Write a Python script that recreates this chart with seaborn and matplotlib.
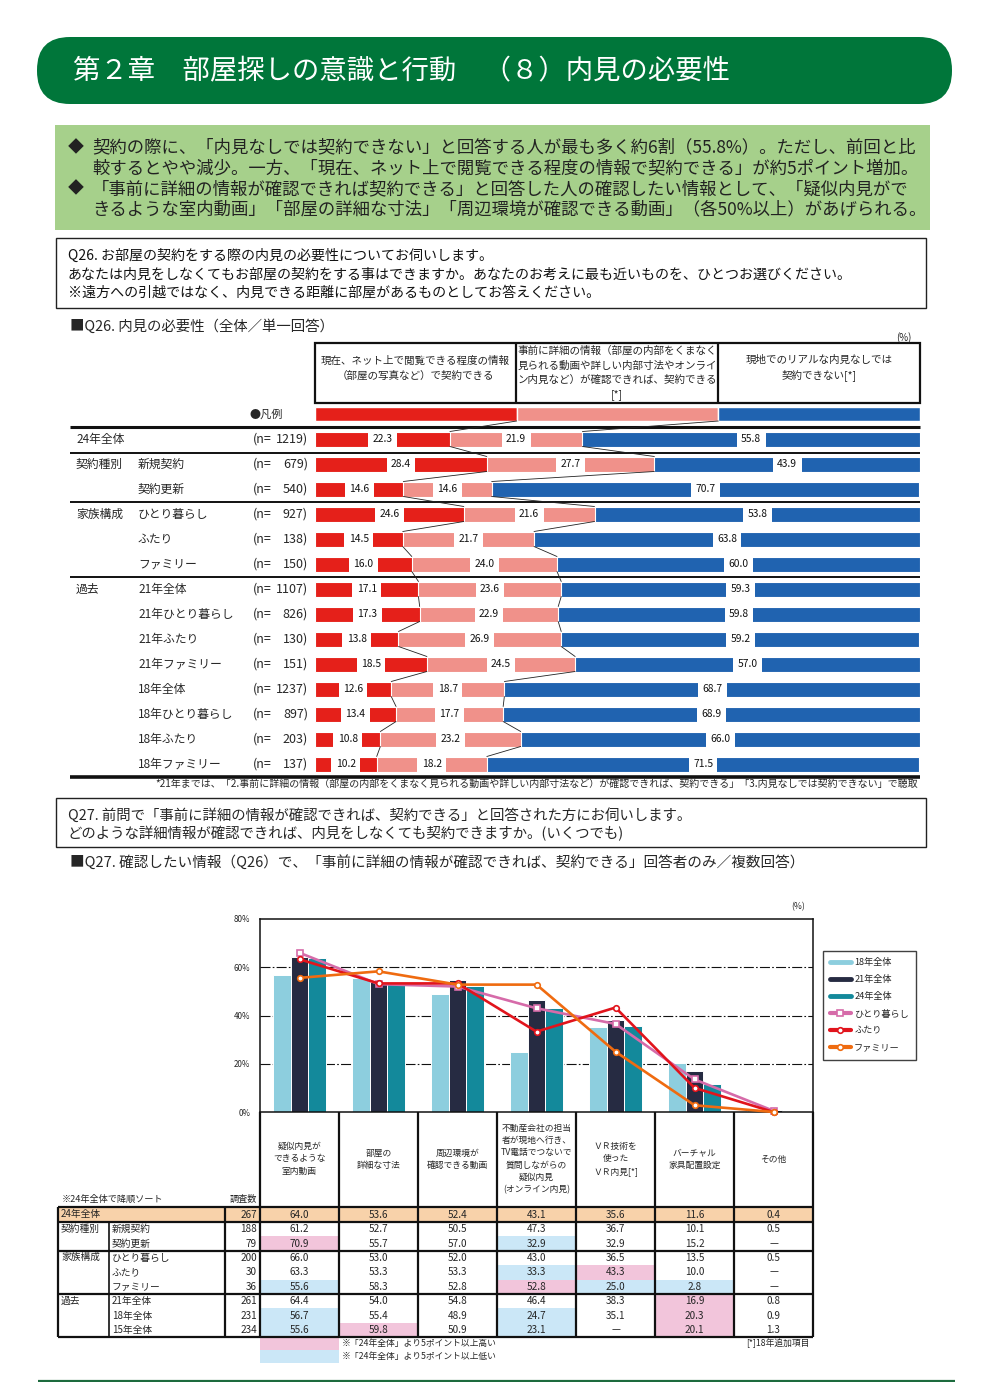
import numpy as np
import pandas as pd
import seaborn as sns
import matplotlib
matplotlib.use('Agg')
import matplotlib.pyplot as plt
from matplotlib.patches import FancyBboxPatch, Rectangle
from matplotlib.lines import Line2D

sns.set_theme(style='white')
plt.rcParams['font.family'] = ['Noto Sans CJK JP', 'DejaVu Sans']

# ---------------- data ----------------
title = '第２章　部屋探しの意識と行動　（８）内見の必要性'
summary = [
    ('◆', '契約の際に、「内見なしでは契約できない」と回答する人が最も多く約6割（55.8%）。ただし、前回と比'),
    ('', '較するとやや減少。一方、「現在、ネット上で閲覧できる程度の情報で契約できる」が約5ポイント増加。'),
    ('◆', '「事前に詳細の情報が確認できれば契約できる」と回答した人の確認したい情報として、「疑似内見がで'),
    ('', 'きるような室内動画」「部屋の詳細な寸法」「周辺環境が確認できる動画」（各50%以上）があげられる。'),
]
q26_question = [
    'Q26. お部屋の契約をする際の内見の必要性についてお伺いします。',
    'あなたは内見をしなくてもお部屋の契約をする事はできますか。あなたのお考えに最も近いものを、ひとつお選びください。',
    '※遠方への引越ではなく、内見できる距離に部屋があるものとしてお答えください。',
]
q26_title = '■Q26. 内見の必要性（全体／単一回答）'
q26_series = ['現在、ネット上で閲覧できる程度の情報\n（部屋の写真など）で契約できる',
              '事前に詳細の情報（部屋の内部をくまなく\n見られる動画や詳しい内部寸法やオンライ\nン内見など）が確認できれば、契約できる\n[*]',
              '現地でのリアルな内見なしでは\n契約できない[*]']
q26_groups = ['24年全体', '契約種別', '', '家族構成', '', '', '過去', '', '', '', '', '', '', '']
q26_rows = ['', '新規契約', '契約更新', 'ひとり暮らし', 'ふたり', 'ファミリー', '21年全体', '21年ひとり暮らし',
            '21年ふたり', '21年ファミリー', '18年全体', '18年ひとり暮らし', '18年ふたり', '18年ファミリー']
q26_n = [1219, 679, 540, 927, 138, 150, 1107, 826, 130, 151, 1237, 897, 203, 137]
q26_net = [22.3, 28.4, 14.6, 24.6, 14.5, 16.0, 17.1, 17.3, 13.8, 18.5, 12.6, 13.4, 10.8, 10.2]
q26_detail = [21.9, 27.7, 14.6, 21.6, 21.7, 24.0, 23.6, 22.9, 26.9, 24.5, 18.7, 17.7, 23.2, 18.2]
q26_real = [55.8, 43.9, 70.7, 53.8, 63.8, 60.0, 59.3, 59.8, 59.2, 57.0, 68.7, 68.9, 66.0, 71.5]
q26_note = '*21年までは、「2.事前に詳細の情報（部屋の内部をくまなく見られる動画や詳しい内部寸法など）が確認できれば、契約できる」「3.内見なしでは契約できない」で聴取'

q27_question = ['Q27. 前問で「事前に詳細の情報が確認できれば、契約できる」と回答された方にお伺いします。',
                'どのような詳細情報が確認できれば、内見をしなくても契約できますか。(いくつでも)']
q27_title = '■Q27. 確認したい情報（Q26）で、「事前に詳細の情報が確認できれば、契約できる」回答者のみ／複数回答）'
q27_cats = ['疑似内見が\nできるような\n室内動画', '部屋の\n詳細な寸法', '周辺環境が\n確認できる動画',
            '不動産会社の担当\n者が現地へ行き、\nTV電話でつないで\n質問しながらの\n疑似内見\n(オンライン内見)',
            'ＶＲ技術を\n使った\nＶＲ内見[*]', 'バーチャル\n家具配置設定', 'その他']
bar_series = ['18年全体', '21年全体', '24年全体']
line_series = ['ひとり暮らし', 'ふたり', 'ファミリー']

tbl_groups = ['24年全体', '契約種別', '', '家族構成', '', '', '過去', '', '']
tbl_rows = ['', '新規契約', '契約更新', 'ひとり暮らし', 'ふたり', 'ファミリー', '21年全体', '18年全体', '15年全体']
tbl_n = [267, 188, 79, 200, 30, 36, 261, 231, 234]
col_virtual = [64.0, 61.2, 70.9, 66.0, 63.3, 55.6, 64.4, 56.7, 55.6]
col_size = [53.6, 52.7, 55.7, 53.0, 53.3, 58.3, 54.0, 55.4, 59.8]
col_area = [52.4, 50.5, 57.0, 52.0, 53.3, 52.8, 54.8, 48.9, 50.9]
col_online = [43.1, 47.3, 32.9, 43.0, 33.3, 52.8, 46.4, 24.7, 23.1]
col_vr = [35.6, 36.7, 32.9, 36.5, 43.3, 25.0, 38.3, 35.1, None]
col_furn = [11.6, 10.1, 15.2, 13.5, 10.0, 2.8, 16.9, 20.3, 20.1]
col_other = [0.4, 0.5, None, 0.5, None, None, 0.8, 0.9, 1.3]
tbl_cols = [col_virtual, col_size, col_area, col_online, col_vr, col_furn, col_other]
# chart rows: 18年全体 / 21年全体 / 24年全体 / ひとり暮らし / ふたり / ファミリー
bar_rows = {'18年全体': 7, '21年全体': 6, '24年全体': 0}
line_rows = {'ひとり暮らし': 3, 'ふたり': 4, 'ファミリー': 5}

# ---------------- styling ----------------
GREEN = '#00763a'
LGREEN = '#a6d08b'
RED = '#e5201a'
PINK = '#f0918a'
BLUE = '#2063b0'
C18, C21, C24 = '#8dcede', '#262b42', '#13899b'
LPINK, LRED, LORANGE = '#d66ba9', '#e1141c', '#ef6b10'
HI_PINK, HI_BLUE, HI_ORANGE = '#f2c5db', '#cbe7f7', '#f8d2aa'

W, H = 1002, 1382
fig = plt.figure(figsize=(W / 100, H / 100), dpi=100)
fig.patch.set_facecolor('white')
ax0 = fig.add_axes([0, 0, 1, 1])
ax0.set_xlim(0, W)
ax0.set_ylim(H, 0)
ax0.axis('off')


def fa(x0, y0, x1, y1):
    return [x0 / W, 1 - y1 / H, (x1 - x0) / W, (y1 - y0) / H]


def T(x, y, s, size=8, ha='left', va='center', **kw):
    ax0.text(x, y, s, fontsize=size, ha=ha, va=va, **kw)


def L(xs, ys, lw=1.0, color='#111111', **kw):
    ax0.plot(xs, ys, color=color, lw=lw, solid_capstyle='butt', **kw)


# ---------------- header ----------------
ax0.add_patch(FancyBboxPatch((37, 37), 915, 67, boxstyle='round,pad=0,rounding_size=33',
                             fc=GREEN, ec='none'))
T(73, 72, title, size=19.7, color='white')

# summary box
ax0.add_patch(Rectangle((55, 125), 875, 105, fc=LGREEN, ec='none'))
for k, (mark, line) in enumerate(summary):
    y = 147.5 + k * 20.7
    if mark:
        T(68, y, mark, size=11.5, color='#222222')
    T(92, y, line, size=12.5, color='#222222')

# Q26 question box
ax0.add_patch(Rectangle((56, 238), 870, 70, fc='white', ec='#222222', lw=1.0))
for k, line in enumerate(q26_question):
    T(68, 256 + k * 18.5, line, size=10.1, color='#111111')
T(70, 327, q26_title, size=10.4)
T(912, 338, '(%)', size=7, ha='right')

# Q26 series header cells
cell_x = [315, 516, 718, 920]
ax0.add_patch(Rectangle((315, 343), 605, 60, fc='none', ec='#111111', lw=1.6))
for xx in cell_x[1:-1]:
    L([xx, xx], [343, 403], lw=1.6)
for k, s in enumerate(q26_series):
    yc = 368 if k != 1 else 373
    T((cell_x[k] + cell_x[k + 1]) / 2, yc, s, size=7.6, ha='center', linespacing=1.55)

T(283, 414, '●凡例', size=8, ha='right')

# row labels
ROW_Y0, ROW_DY = 439, 25
for i in range(len(q26_rows)):
    y = ROW_Y0 + ROW_DY * i
    if q26_groups[i]:
        T(76, y, q26_groups[i], size=8.5)
    if q26_rows[i]:
        T(138, y, q26_rows[i], size=8.5)
    T(253, y, '(n=', size=9.0)
    T(308, y, f'{q26_n[i]})', size=9.0, ha='right')

L([70, 920], [427, 427], lw=2.2)
for yy in [452.5, 502, 577]:
    L([70, 920], [yy, yy], lw=1.4)
L([70, 920], [776.5, 776.5], lw=2.6)
T(918, 785, q26_note, size=7.2, ha='right')

# ---------------- Q26 stacked bar chart ----------------
ax1 = fig.add_axes(fa(315, 401.5, 920, 776.5))
ax1.patch.set_alpha(0)
ids = [f'r{i}' for i in range(len(q26_rows))]
cum1 = np.array(q26_net)
cum2 = cum1 + np.array(q26_detail)
cum3 = cum2 + np.array(q26_real)
for vals, col in [(cum3, BLUE), (cum2, PINK), (cum1, RED)]:
    sns.barplot(x=vals, y=ids, orient='h', color=col, saturation=1, width=0.6,
                edgecolor='white', linewidth=0.8, ax=ax1)
# legend bar
for k, col in enumerate([RED, PINK, BLUE]):
    ax1.barh(-1, 100 / 3, left=k * 100 / 3, height=0.56, color=col, edgecolor='white', linewidth=1)
# value labels
for i in range(len(ids)):
    starts = [0, cum1[i], cum2[i]]
    vals = [q26_net[i], q26_detail[i], q26_real[i]]
    for s0, v in zip(starts, vals):
        ax1.text(s0 + v / 2, i, f'{v:.1f}', ha='center', va='center', fontsize=7.4, color='#111111',
                 bbox=dict(boxstyle='square,pad=0.42', fc='white', ec='none'))
# connector lines
b1 = [100 / 3] + list(cum1)
b2 = [200 / 3] + list(cum2)
ys = [-1] + list(range(len(ids)))
hh = [0.28] + [0.3] * len(ids)
for k in range(len(ids)):
    for b in (b1, b2):
        ax1.plot([b[k], b[k + 1]], [ys[k] + hh[k], ys[k + 1] - hh[k + 1]], color='#222222', lw=0.6)
ax1.set_xlim(0, 100)
ax1.set_ylim(13.5, -1.5)
ax1.axis('off')

# ---------------- Q27 question ----------------
ax0.add_patch(Rectangle((56, 798), 870, 49, fc='white', ec='#222222', lw=1.0))
for k, line in enumerate(q27_question):
    T(68, 815 + k * 18.5, line, size=10.4)
T(70, 862, q27_title, size=10.5)

# ---------------- Q27 chart ----------------
ax2 = fig.add_axes(fa(260, 919, 813, 1112))
cats = [f'c{k}' for k in range(len(q27_cats))]
df = pd.DataFrame({
    'cat': cats * 3,
    'series': sum([[s] * len(cats) for s in bar_series], []),
    'val': sum([[tbl_cols[c][bar_rows[s]] for c in range(len(cats))] for s in bar_series], []),
})
sns.barplot(data=df, x='cat', y='val', hue='series', palette=[C18, C21, C24], saturation=1,
            width=0.66, edgecolor='white', linewidth=0.7, ax=ax2, legend=False)
line_styles = {'ひとり暮らし': (LPINK, 's', 4.2), 'ふたり': (LRED, 'o', 4.0), 'ファミリー': (LORANGE, 'o', 4.0)}
xs = np.arange(len(cats))
for s in line_series:
    r = line_rows[s]
    v = [tbl_cols[c][r] if tbl_cols[c][r] is not None else 0.0 for c in range(len(cats))]
    col, mk, ms = line_styles[s]
    ax2.plot(xs, v, color=col, lw=1.9, marker=mk, ms=ms, mfc='white', mec=col, mew=1.2, zorder=5,
             clip_on=False)
for g in [20, 40, 60]:
    ax2.axhline(g, color='#111111', lw=0.8, ls=(0, (9, 2, 1.5, 2)), zorder=0)
ax2.set_xlim(-0.5, 6.5)
ax2.set_ylim(0, 80)
ax2.set_yticks([0, 20, 40, 60, 80])
ax2.set_yticklabels([f'{t}%' for t in [0, 20, 40, 60, 80]], fontsize=5.8)
ax2.tick_params(axis='y', length=0, pad=7)
ax2.set_xticks([])
ax2.set_xlabel('')
ax2.set_ylabel('')
for sp in ax2.spines.values():
    sp.set_color('#111111')
    sp.set_linewidth(1.1)
ax0.text(805, 907, '(%)', fontsize=6.2, ha='right', va='center')

handles = [Line2D([], [], color=C18, lw=3.5), Line2D([], [], color=C21, lw=3.5), Line2D([], [], color=C24, lw=3.5)]
for s in line_series:
    col, mk, ms = line_styles[s]
    handles.append(Line2D([], [], color=col, lw=3.0, marker=mk, ms=ms, mfc='white', mec=col, mew=1.2))
leg = fig.legend(handles, bar_series + line_series, loc='upper left',
                 bbox_to_anchor=(823 / W, 1 - 951 / H), fontsize=6.6, frameon=True, fancybox=False,
                 edgecolor='#111111', handlelength=2.2, handletextpad=0.4, labelspacing=0.88,
                 borderpad=0.8, borderaxespad=0)
leg.get_frame().set_linewidth(1.0)

# ---------------- table ----------------
col_x = [260 + 79 * k for k in range(8)]
TOP, HDR_BOT, R0_BOT, RH = 1112, 1207, 1222, 14.4
row_tops = [HDR_BOT] + [R0_BOT + RH * (k - 1) for k in range(1, 9)]
row_bots = [R0_BOT] + [R0_BOT + RH * k for k in range(1, 9)]
TBL_BOT = row_bots[-1]

# header texts
for k, s in enumerate(q27_cats):
    T((col_x[k] + col_x[k + 1]) / 2, 1159, s, size=6.3, ha='center', linespacing=1.45)
T(62, 1199, '※24年全体で降順ソート', size=6.6)
T(243, 1199, '調査数', size=6.6, ha='center')

# cell fills
ax0.add_patch(Rectangle((58, HDR_BOT), col_x[-1] - 58, R0_BOT - HDR_BOT, fc=HI_ORANGE, ec='none'))
for c, colvals in enumerate(tbl_cols):
    base = colvals[0]
    for r in range(1, len(tbl_rows)):
        v = colvals[r]
        if v is None:
            continue
        fc = None
        if v - base >= 5:
            fc = HI_PINK
        elif base - v >= 5:
            fc = HI_BLUE
        if fc:
            ax0.add_patch(Rectangle((col_x[c], row_tops[r]), 79, RH, fc=fc, ec='none'))

# cell texts
for r in range(len(tbl_rows)):
    yc = (row_tops[r] + row_bots[r]) / 2
    if r == 0:
        T(61, yc, tbl_groups[0], size=7)
    else:
        if tbl_groups[r]:
            T(61, row_tops[r] + 6.5, tbl_groups[r], size=7)
        T(112, yc, tbl_rows[r], size=7)
    T(257, yc, str(tbl_n[r]), size=7.2, ha='right')
    for c, colvals in enumerate(tbl_cols):
        v = colvals[r]
        T((col_x[c] + col_x[c + 1]) / 2, yc, '—' if v is None else f'{v:.1f}', size=7.2, ha='center')

# table lines
TL = 1.6
for xx in col_x:
    L([xx, xx], [TOP, TBL_BOT], lw=TL)
L([58, 58], [HDR_BOT, TBL_BOT], lw=TL)
L([225, 225], [HDR_BOT, TBL_BOT], lw=TL)
L([109, 109], [R0_BOT, TBL_BOT], lw=1.2)
for yy in [HDR_BOT, R0_BOT, row_bots[2], row_bots[5], TBL_BOT]:
    L([58, col_x[-1]], [yy, yy], lw=TL)

# legend of highlights
ax0.add_patch(Rectangle((260, TBL_BOT), 79, 13, fc=HI_PINK, ec='none'))
ax0.add_patch(Rectangle((260, TBL_BOT + 13), 79, 13, fc=HI_BLUE, ec='none'))
T(342, TBL_BOT + 6.5, '※「24年全体」より5ポイント以上高い', size=6.3)
T(342, TBL_BOT + 19.5, '※「24年全体」より5ポイント以上低い', size=6.3)
T(810, 1343, '[*]18年追加項目', size=6.3, ha='right')

# bottom rule
L([38, 955], [1380.5, 1380.5], lw=1.6, color='#1d6b3e')

fig.savefig('out.png', dpi=100)
